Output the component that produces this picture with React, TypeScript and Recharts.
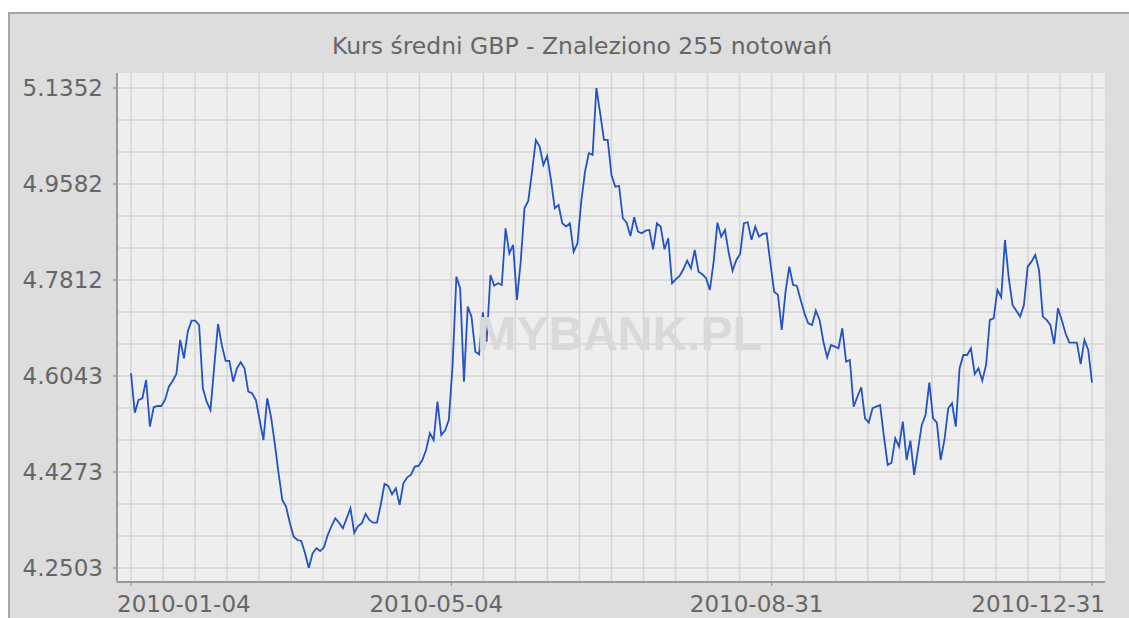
import { LineChart, Line, XAxis, YAxis, CartesianGrid, ReferenceDot } from "recharts";

const TITLE = "Kurs średni GBP - Znaleziono 255 notowań";
const WATERMARK = "MYBANK.PL";

// tick labels shown under the axis (first, 1/3, 2/3, last quote)
const DATE_LABELS = ["2010-01-04", "2010-05-04", "2010-08-31", "2010-12-31"];
const RATE_TICKS = [4.2503, 4.4273, 4.6043, 4.7812, 4.9582, 5.1352];

// daily GBP mid rate, 255 quotes
const RATES = [
  4.6093, 4.5366, 4.5601, 4.5632, 4.5969, 4.5108, 4.5466, 4.549, 4.549, 4.5601,
  4.5846, 4.5951, 4.608, 4.6707, 4.6369, 4.686, 4.7063, 4.7063, 4.6983, 4.5816,
  4.5569, 4.5416, 4.6215, 4.7002, 4.6615, 4.632, 4.632, 4.5938, 4.6185, 4.6296,
  4.6185, 4.5754, 4.5724, 4.5601, 4.5232, 4.4863, 4.5632, 4.5293, 4.4802, 4.4249,
  4.3757, 4.3633, 4.3327, 4.308, 4.3019, 4.3001, 4.2774, 4.2503, 4.2774, 4.2866,
  4.2816, 4.2885, 4.3111, 4.3277, 4.3419, 4.3338, 4.3235, 4.3419, 4.3604, 4.3154,
  4.3277, 4.3327, 4.3499, 4.3388, 4.3338, 4.3338, 4.3665, 4.4052, 4.4015, 4.3862,
  4.3973, 4.3665, 4.4065, 4.4175, 4.4218, 4.4371, 4.4384, 4.4494, 4.4679, 4.4987,
  4.4863, 4.5569, 4.4955, 4.5035, 4.5232, 4.6246, 4.7874, 4.766, 4.5938, 4.7321,
  4.7137, 4.6491, 4.6443, 4.7218, 4.6676, 4.7905, 4.7708, 4.7752, 4.7721, 4.8766,
  4.8305, 4.8458, 4.7444, 4.8151, 4.9135, 4.927, 4.981, 5.0394, 5.0271, 4.9934,
  5.0099, 4.9657, 4.9135, 4.9196, 4.8859, 4.8796, 4.8859, 4.8335, 4.849, 4.9257,
  4.981, 5.0149, 5.0118, 5.1352, 5.0887, 5.0394, 5.0394, 4.9749, 4.9533, 4.9546,
  4.8951, 4.887, 4.8624, 4.8969, 4.8704, 4.8674, 4.8722, 4.8735, 4.8379, 4.8859,
  4.8796, 4.8379, 4.8582, 4.7752, 4.7826, 4.7887, 4.801, 4.8169, 4.8029, 4.8366,
  4.7966, 4.7918, 4.7845, 4.7629, 4.8151, 4.887, 4.8612, 4.8735, 4.8305, 4.7985,
  4.8182, 4.8293, 4.8859, 4.8877, 4.8551, 4.8796, 4.8612, 4.8661, 4.8674, 4.8121,
  4.7597, 4.7537, 4.6891, 4.7597, 4.8058, 4.7721, 4.7703, 4.7444, 4.7199, 4.7015,
  4.6983, 4.7247, 4.7076, 4.6676, 4.6388, 4.6615, 4.6583, 4.6554, 4.6923, 4.6307,
  4.6338, 4.5477, 4.5661, 4.5835, 4.5263, 4.5182, 4.5448, 4.5477, 4.5508, 4.4924,
  4.4402, 4.4445, 4.4894, 4.474, 4.52, 4.4494, 4.485, 4.4218, 4.4679, 4.514,
  4.5324, 4.592, 4.5263, 4.5182, 4.4494, 4.4863, 4.5448, 4.554, 4.5108, 4.6185,
  4.643, 4.643, 4.6554, 4.608, 4.6185, 4.5956, 4.6246, 4.7076, 4.7107, 4.7629,
  4.7494, 4.8551, 4.7845, 4.7352, 4.7247, 4.7137, 4.7352, 4.8058, 4.8151, 4.8274,
  4.7998, 4.7137, 4.7076, 4.6983, 4.6633, 4.7291, 4.7076, 4.683, 4.6657, 4.6657,
  4.6657, 4.6262, 4.6707, 4.6522, 4.592,
];

const LAST = RATES.length - 1;
const data = RATES.map((rate, i) => ({ i, rate }));

const xTicks = DATE_LABELS.map((_, k) => (k * LAST) / (DATE_LABELS.length - 1));
const yMin = RATE_TICKS[0];
const yMax = RATE_TICKS[RATE_TICKS.length - 1];

// light grid: 30 columns between first and last quote, 15 rows between min and max
const gridX = Array.from({ length: 31 }, (_, k) => (k * LAST) / 30);
const gridY = Array.from({ length: 16 }, (_, k) => yMin + (k * (yMax - yMin)) / 15);

const FONT = "'DejaVu Sans', sans-serif";
const TEXT = "#666666";
const FRAME = "#9a9a9a";

function DateTick(props: any) {
  const { x, y, payload } = props;
  const k = Math.round(payload.value / (LAST / (DATE_LABELS.length - 1)));
  const lastK = DATE_LABELS.length - 1;
  const anchor = k === 0 ? "start" : k === lastK ? "end" : "middle";
  const dx = k === 0 ? -14 : k === lastK ? 13 : -15;
  return (
    <text
      x={x + dx}
      y={y}
      dy="0.71em"
      textAnchor={anchor}
      fill={TEXT}
      fontSize={23}
      fontFamily={FONT}
    >
      {DATE_LABELS[k]}
    </text>
  );
}

export default function App() {
  return (
    <div
      style={{
        position: "fixed",
        left: 8,
        top: 12,
        width: 1121,
        height: 606,
        background: "#dddddd",
        borderTop: "2px solid #a6a6a6",
        borderLeft: "2px solid #a6a6a6",
        boxSizing: "border-box",
        overflow: "hidden",
      }}
    >
      <div
        style={{
          position: "absolute",
          left: 572,
          top: 21,
          transform: "translateX(-50%)",
          whiteSpace: "nowrap",
          fontFamily: FONT,
          fontSize: 23.5,
          lineHeight: 1,
          color: TEXT,
        }}
      >
        {TITLE}
      </div>
      <div style={{ position: "absolute", left: 0, top: 0 }}>
        <LineChart
          width={1100}
          height={604}
          data={data}
          margin={{ top: 59, right: 5, bottom: 0, left: 7 }}
        >
          <CartesianGrid
            fill="#eeeeee"
            fillOpacity={1}
            stroke="#d5d5d5"
            strokeWidth={1.5}
            horizontalValues={gridY}
            verticalValues={gridX}
          />
          <XAxis
            dataKey="i"
            type="number"
            domain={[0, LAST]}
            ticks={xTicks}
            interval={0}
            padding={{ left: 14, right: 13 }}
            height={36}
            tickSize={4}
            tickMargin={10}
            axisLine={{ stroke: FRAME, strokeWidth: 2 }}
            tickLine={{ stroke: "#888888" }}
            tick={<DateTick />}
          />
          <XAxis
            xAxisId="frame"
            orientation="top"
            dataKey="i"
            type="number"
            domain={[0, LAST]}
            height={0}
            tick={false}
            tickLine={false}
            axisLine={{ stroke: FRAME, strokeWidth: 2 }}
          />
          <YAxis
            type="number"
            domain={[yMin, yMax]}
            allowDataOverflow
            ticks={RATE_TICKS}
            interval={0}
            padding={{ top: 15, bottom: 14 }}
            width={100}
            tickSize={4}
            tickMargin={10}
            tickFormatter={(v: number) => v.toFixed(4)}
            axisLine={{ stroke: FRAME, strokeWidth: 2 }}
            tickLine={{ stroke: "#888888" }}
            tick={{ fill: TEXT, fontSize: 23, fontFamily: FONT }}
          />
          <YAxis
            yAxisId="frame"
            orientation="right"
            type="number"
            domain={[yMin, yMax]}
            width={0}
            tick={false}
            tickLine={false}
            axisLine={{ stroke: FRAME, strokeWidth: 2 }}
          />
          <ReferenceDot
            x={129}
            y={4.684}
            r={0}
            fill="none"
            stroke="none"
            label={{
              value: WATERMARK,
              position: "center",
              fill: "#d9d9d9",
              fontSize: 48,
              fontWeight: "bold",
              fontFamily: "'Liberation Sans', Arial, sans-serif",
            }}
          />
          <Line
            type="linear"
            dataKey="rate"
            stroke="#2453c2"
            strokeWidth={1.8}
            dot={false}
            isAnimationActive={false}
          />
        </LineChart>
      </div>
    </div>
  );
}
